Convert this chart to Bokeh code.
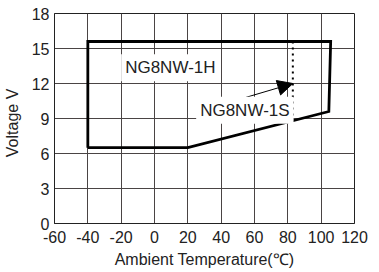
from bokeh.plotting import figure
from bokeh.models import Range1d, FixedTicker, Arrow, NormalHead, Label
from bokeh.embed import file_html
from bokeh.resources import INLINE

# operating region outline (temperature degC, voltage V)
region_t = [-40, -40, 105.7, 104.6, 20, -40]
region_v = [6.5, 15.6, 15.6, 9.6, 6.5, 6.5]

# dotted limit for NG8NW-1S
limit_t = [83, 83]
limit_v = [15.6, 8.8]

# arrow pointing to the NG8NW-1S limit
arrow_start = (54.6, 10.8)
arrow_end = (83, 12.0)

x_ticks = [-60, -40, -20, 0, 20, 40, 60, 80, 100, 120]
x_tick_labels = ["-60", "-40", "-20", "0", "20", "40", "60", "80", "100", "120"]
y_ticks = [0, 3, 6, 9, 12, 15, 18]

label_1h = ("NG8NW-1H", -20, 13.35)
label_1s = ("NG8NW-1S", 25, 9.7)

FONT = "Liberation Sans"

p = figure(width=379, height=272, output_backend="svg", toolbar_location=None,
           x_range=Range1d(-60, 120), y_range=Range1d(0, 18),
           min_border_left=54, min_border_right=25, min_border_top=13, min_border_bottom=49)

p.background_fill_color = "white"
p.border_fill_color = "white"
p.outline_line_color = "#222222"
p.outline_line_width = 1

p.xaxis.ticker = FixedTicker(ticks=x_ticks)
p.xaxis.major_label_overrides = {t: s for t, s in zip(x_ticks, x_tick_labels)}
p.yaxis.ticker = FixedTicker(ticks=y_ticks)
for ax in (p.xaxis[0], p.yaxis[0]):
    ax.major_tick_line_color = None
    ax.minor_tick_line_color = None
    ax.major_tick_in = 0
    ax.major_tick_out = 0
    ax.axis_line_color = "#222222"
    ax.major_label_text_font = FONT
    ax.major_label_text_font_size = "16px"
    ax.major_label_text_color = "#222222"
    ax.axis_label_text_font = FONT
    ax.axis_label_text_font_size = "16px"
    ax.axis_label_text_font_style = "normal"
    ax.axis_label_text_color = "#222222"

p.xaxis.axis_label = "Ambient Temperature(℃)"
p.yaxis.axis_label = "Voltage   V"
p.xaxis.major_label_standoff = 7
p.xaxis.axis_label_standoff = 5
p.yaxis.major_label_standoff = 5
p.yaxis.axis_label_standoff = 8

p.xgrid.ticker = FixedTicker(ticks=x_ticks)
p.ygrid.ticker = FixedTicker(ticks=y_ticks)
p.grid.grid_line_color = "#4a4444"
p.grid.grid_line_width = 1

p.line(region_t, region_v, line_color="black", line_width=2.8, line_join="miter")
p.line(limit_t, limit_v, line_color="black", line_width=2, line_dash="2 4")

p.add_layout(Arrow(end=NormalHead(size=15, fill_color="black", line_color="black"),
                   x_start=arrow_start[0], y_start=arrow_start[1],
                   x_end=arrow_end[0], y_end=arrow_end[1],
                   line_color="black", line_width=1))

for txt, lx, ly in (label_1h, label_1s):
    p.add_layout(Label(x=lx, y=ly, text=txt, text_font=FONT, text_font_size="17px",
                       text_color="#222222", text_baseline="middle",
                       background_fill_color="white", padding=4))

open("out.html", "w").write(file_html(p, INLINE))
